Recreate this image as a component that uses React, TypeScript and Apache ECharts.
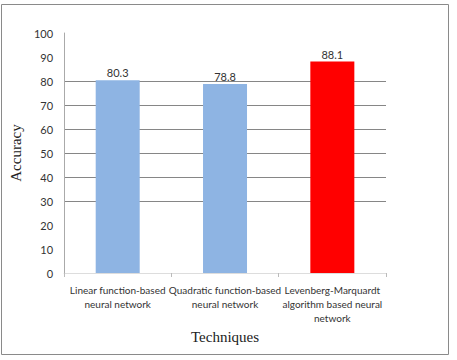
import React, { useEffect, useRef } from "react";
import * as echarts from "echarts";

const categories = [
  "Linear function-based\nneural network",
  "Quadratic function-based\nneural network",
  "Levenberg-Marquardt\nalgorithm based neural\nnetwork",
];
const values = [80.3, 78.8, 88.1];
const barColors = ["#8EB4E3", "#8EB4E3", "#FF0000"];
const yTicks = [0, 10, 20, 30, 40, 50, 60, 70, 80, 90, 100];
const gridLineValues = [30, 40, 50, 60, 70, 80];

export default function App() {
  const ref = useRef<HTMLDivElement>(null);
  useEffect(() => {
    if (!ref.current) return;
    const chart = echarts.init(ref.current, undefined, { renderer: "svg" });
    const splitColors = yTicks.map((t) =>
      gridLineValues.indexOf(t) >= 0 ? "#868686" : "rgba(0,0,0,0)"
    );
    chart.setOption({
      animation: false,
      backgroundColor: "#ffffff",
      textStyle: { fontFamily: "Lato" },
      graphic: [
        {
          type: "rect",
          shape: { x: 1.5, y: 4.5, width: 447, height: 350 },
          style: { fill: "none", stroke: "#8a8a8a", lineWidth: 1 },
          silent: true,
        },
      ],
      grid: { left: 55, top: 33, right: 71, bottom: 87, containLabel: false },
      xAxis: {
        type: "category",
        data: categories,
        name: "Techniques",
        nameLocation: "middle",
        nameGap: 54,
        nameTextStyle: { fontFamily: "Liberation Serif", fontSize: 15, color: "#222" },
        axisLine: { lineStyle: { color: "#dddddd" } },
        axisTick: { show: true, length: 4, lineStyle: { color: "#bbbbbb" } },
        axisLabel: { interval: 0, fontSize: 10, color: "#333", lineHeight: 14, margin: 10 },
        splitLine: { show: false },
      },
      yAxis: {
        type: "value",
        min: yTicks[0],
        max: yTicks[yTicks.length - 1],
        interval: 10,
        name: "Accuracy",
        nameLocation: "middle",
        nameGap: 28,
        nameTextStyle: { fontFamily: "Liberation Serif", fontSize: 15, color: "#222" },
        axisLine: { show: true, lineStyle: { color: "#aaaaaa" } },
        axisTick: { show: false },
        axisLabel: { fontSize: 11, color: "#333", margin: 11 },
        splitLine: { show: true, lineStyle: { color: splitColors, width: 1 } },
      },
      series: [
        {
          type: "bar",
          data: values.map((v, i) => ({ value: v, itemStyle: { color: barColors[i] } })),
          barWidth: "41%",
          label: { show: true, position: "top", fontSize: 11, color: "#333", distance: 2 },
        },
      ],
    });
    return () => chart.dispose();
  }, []);
  return (
    <div
      ref={ref}
      style={{ position: "fixed", left: 0, top: 0, width: 457, height: 360 }}
    />
  );
}
